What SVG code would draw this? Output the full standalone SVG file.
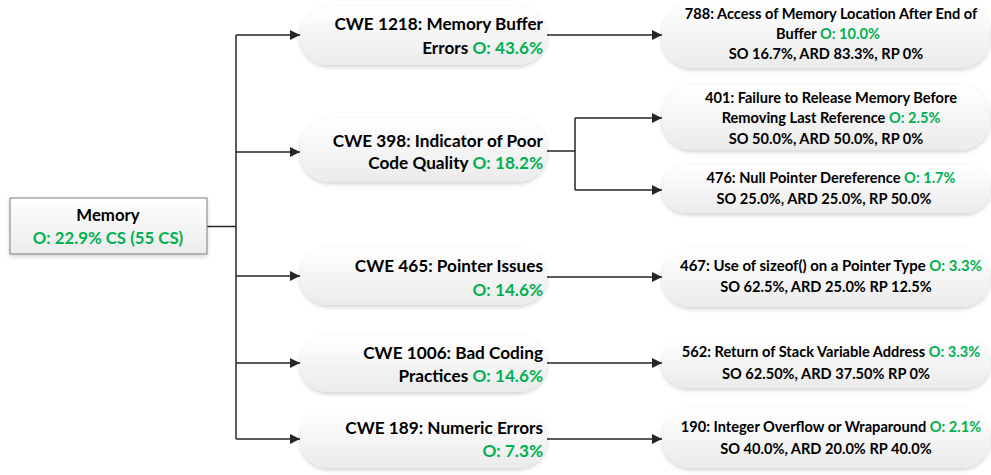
<svg xmlns="http://www.w3.org/2000/svg" width="991" height="475" viewBox="0 0 991 475">
<defs>
<linearGradient id="g" x1="0" y1="0" x2="0" y2="1">
<stop offset="0" stop-color="#ffffff"/>
<stop offset="1" stop-color="#ebebeb"/>
</linearGradient>
<filter id="sh" x="-10%" y="-20%" width="120%" height="150%">
<feDropShadow dx="0" dy="2" stdDeviation="2" flood-color="#000" flood-opacity="0.18"/>
</filter>
<marker id="ah" viewBox="0 0 10 10" refX="10" refY="5" markerWidth="10" markerHeight="10" markerUnits="userSpaceOnUse" orient="auto">
<path d="M0,0 L10,5 L0,10 z" fill="#262626"/>
</marker>
<style>
.n{fill:url(#g);filter:url(#sh);}
.t{font-family:Lato,"Liberation Sans",sans-serif;font-weight:bold;fill:#000;}
.m{font-size:17.2px;text-anchor:end;}
.r{font-size:14.6px;text-anchor:middle;}
.gr{fill:#00b050;}
.c{fill:none;stroke:#262626;stroke-width:1.5;}
.ca{fill:none;stroke:#262626;stroke-width:1.5;marker-end:url(#ah);}
</style>
</defs>
<rect width="991" height="475" fill="#fff"/>
<g id="connectors">
<path class="c" d="M207,226.5 H236" stroke-width="2"/>
<path class="c" d="M236,35 V439" stroke-width="2"/>
<path class="ca" d="M236,35 H300"/>
<path class="ca" d="M236,152 H300"/>
<path class="ca" d="M236,276 H300"/>
<path class="ca" d="M236,363 H300"/>
<path class="ca" d="M236,439 H300"/>
<path class="ca" d="M546,35 H662"/>
<path class="c" d="M546,151 H575"/>
<path class="c" d="M575,118 V190"/>
<path class="ca" d="M575,118 H662"/>
<path class="ca" d="M575,190 H662"/>
<path class="ca" d="M546,277 H662"/>
<path class="ca" d="M546,363 H662"/>
<path class="ca" d="M546,439 H662"/>
</g>
<g id="memory">
<rect x="10" y="198" width="197" height="56" fill="url(#g)" stroke="#7f7f7f" stroke-width="1" filter="url(#sh)"/>
<text class="t" x="108" y="221" font-size="16.8" text-anchor="middle">Memory</text>
<text class="t gr" x="108" y="244" font-size="16.8" text-anchor="middle">O: 22.9% CS (55 CS)</text>
</g>
<g id="cwe1218">
<rect class="n" x="300" y="6" width="247" height="59" rx="29"/>
<text class="t m" x="543" y="30">CWE 1218: Memory Buffer</text>
<text class="t m" x="543" y="54">Errors <tspan class="gr">O: 43.6%</tspan></text>
</g>
<g id="cwe398">
<rect class="n" x="300" y="118" width="247" height="64" rx="30"/>
<text class="t m" x="543" y="147">CWE 398: Indicator of Poor</text>
<text class="t m" x="543" y="169">Code Quality <tspan class="gr">O: 18.2%</tspan></text>
</g>
<g id="cwe465">
<rect class="n" x="300" y="248" width="247" height="57" rx="28"/>
<text class="t m" x="543" y="272">CWE 465: Pointer Issues</text>
<text class="t m gr" x="543" y="296">O: 14.6%</text>
</g>
<g id="cwe1006">
<rect class="n" x="300" y="335" width="247" height="57" rx="28"/>
<text class="t m" x="543" y="359">CWE 1006: Bad Coding</text>
<text class="t m" x="543" y="382">Practices <tspan class="gr">O: 14.6%</tspan></text>
</g>
<g id="cwe189">
<rect class="n" x="300" y="410" width="247" height="58" rx="28"/>
<text class="t m" x="543" y="434">CWE 189: Numeric Errors</text>
<text class="t m gr" x="543" y="457">O: 7.3%</text>
</g>
<g id="n788">
<rect class="n" x="662" y="3" width="328" height="65" rx="30"/>
<text class="t r" x="831" y="19">788: Access of Memory Location After End of</text>
<text class="t r" x="828" y="39">Buffer <tspan class="gr">O: 10.0%</tspan></text>
<text class="t r" x="826" y="59">SO 16.7%, ARD 83.3%, RP 0%</text>
</g>
<g id="n401">
<rect class="n" x="662" y="85" width="328" height="65" rx="30"/>
<text class="t r" x="831" y="103">401: Failure to Release Memory Before</text>
<text class="t r" x="831" y="123">Removing Last Reference <tspan class="gr">O: 2.5%</tspan></text>
<text class="t r" x="826" y="144">SO 50.0%, ARD 50.0%, RP 0%</text>
</g>
<g id="n476">
<rect class="n" x="662" y="165" width="328" height="48" rx="24"/>
<text class="t r" x="831" y="183">476: Null Pointer Dereference <tspan class="gr">O: 1.7%</tspan></text>
<text class="t r" x="824" y="204">SO 25.0%, ARD 25.0%, RP 50.0%</text>
</g>
<g id="n467">
<rect class="n" x="662" y="248" width="328" height="59" rx="29"/>
<text class="t r" x="831" y="271" textLength="302" lengthAdjust="spacingAndGlyphs">467: Use of sizeof() on a Pointer Type <tspan class="gr">O: 3.3%</tspan></text>
<text class="t r" x="826" y="292">SO 62.5%, ARD 25.0% RP 12.5%</text>
</g>
<g id="n562">
<rect class="n" x="662" y="338" width="328" height="50" rx="25"/>
<text class="t r" x="831" y="357">562: Return of Stack Variable Address <tspan class="gr">O: 3.3%</tspan></text>
<text class="t r" x="826" y="379">SO 62.50%, ARD 37.50% RP 0%</text>
</g>
<g id="n190">
<rect class="n" x="662" y="408" width="328" height="60" rx="29"/>
<text class="t r" x="831" y="432">190: Integer Overflow or Wraparound <tspan class="gr">O: 2.1%</tspan></text>
<text class="t r" x="826" y="454">SO 40.0%, ARD 20.0% RP 40.0%</text>
</g>
</svg>
